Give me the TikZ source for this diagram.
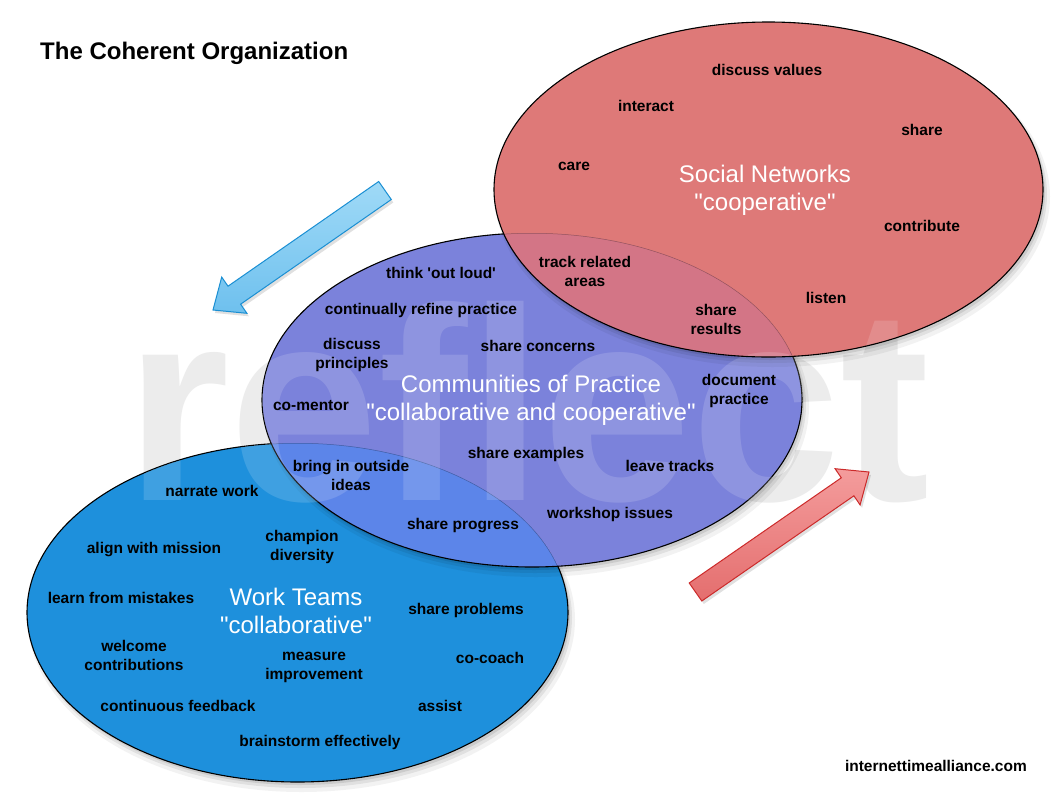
\documentclass[tikz,border=0pt]{standalone}
\usepackage{fontspec}
\usepackage{graphicx}
\newfontfamily\lblf{Liberation Sans}
\definecolor{redE}{RGB}{222,121,120}
\definecolor{purE}{RGB}{123,130,219}
\definecolor{bluE}{RGB}{30,144,220}
\definecolor{bpE}{RGB}{92,133,233}
\definecolor{rpE}{RGB}{211,117,134}
\definecolor{wmGray}{RGB}{236,236,236}
\definecolor{arBlueT}{RGB}{160,218,247}
\definecolor{arBlueB}{RGB}{110,192,238}
\definecolor{arBlueD}{RGB}{26,143,211}
\definecolor{arRedT}{RGB}{244,156,156}
\definecolor{arRedB}{RGB}{228,110,110}
\definecolor{arRedD}{RGB}{204,42,42}
\newcommand\redpath{(768.5,189.5) ellipse [x radius=274.5pt, y radius=167.5pt]}
\newcommand\purpath{(532,400) ellipse [x radius=270pt, y radius=167pt]}
\newcommand\blupath{(297.5,612.5) ellipse [x radius=270.5pt, y radius=169.5pt]}
\newcommand\softshadow[4]{%
  \fill[black,opacity=0.05] (#1+4,#2+7) ellipse [x radius=#3pt+3pt, y radius=#4pt+3pt];
  \fill[black,opacity=0.07] (#1+3,#2+5) ellipse [x radius=#3pt+1pt, y radius=#4pt+1pt];
  \fill[black,opacity=0.09] (#1+2,#2+3) ellipse [x radius=#3pt, y radius=#4pt];}
\begin{document}
\begin{tikzpicture}[x=1pt,y=-1pt,
  lbl/.style={font=\lblf\fontsize{15.5}{19}\selectfont\bfseries, align=center, inner sep=0pt, text=black},
  big/.style={font=\lblf\fontsize{24}{28}\selectfont, align=center, inner sep=0pt, text=white},
  wm/.style={font=\lblf\fontsize{275}{275}\selectfont\bfseries, inner sep=0pt, anchor=base},
  arrowshape/.style={line width=1pt, line join=miter}
  ]
\path[use as bounding box, fill=white] (0,0) rectangle (1061,809);
% watermark (grey, behind everything)
\node[wm, text=wmGray] (wmback) at (528,500) {\scalebox{0.975}[1]{reflect}};
% work teams
\softshadow{297.5}{612.5}{270.5}{169.5}
\fill[bluE] \blupath;
\draw[black, line width=1.1pt] \blupath;
% communities of practice
\softshadow{532}{400}{270}{167}
\fill[purE] \purpath;
\begin{scope}\clip \purpath; \clip \blupath;
  \fill[bpE] \blupath;
  \draw[black, opacity=0.3, line width=1pt] \blupath;
\end{scope}
\draw[black, line width=1.1pt] \purpath;
% social networks
\softshadow{768.5}{189.5}{274.5}{167.5}
\fill[redE] \redpath;
\begin{scope}\clip \redpath; \clip \purpath;
  \fill[rpE] \purpath;
  \draw[black, opacity=0.3, line width=1pt] \purpath;
\end{scope}
% watermark seen through the ellipses (lighter)
\begin{scope}
  \clip \blupath \purpath \redpath;
  \node[wm, text=white, text opacity=0.15] (wmfront) at (528,500) {\scalebox{0.975}[1]{reflect}};
\end{scope}
\draw[black, line width=1.1pt] \redpath;
% arrows
\coordinate (ba1) at (391.3,199.5);
\coordinate (ba2) at (378.7,181.5);
\coordinate (ba3) at (228.0,286.2);
\coordinate (ba4) at (221.7,277.1);
\coordinate (ba5) at (213,310);
\coordinate (ba6) at (246.9,313.3);
\coordinate (ba7) at (240.6,304.2);
\fill[black,opacity=0.12] ([shift={(2,3)}]ba1) -- ([shift={(2,3)}]ba2) -- ([shift={(2,3)}]ba3) -- ([shift={(2,3)}]ba4) -- ([shift={(2,3)}]ba5) -- ([shift={(2,3)}]ba6) -- ([shift={(2,3)}]ba7) -- cycle;
\draw[arrowshape, top color=arBlueT, bottom color=arBlueB, draw=arBlueD] (ba1) -- (ba2) -- (ba3) -- (ba4) -- (ba5) -- (ba6) -- (ba7) -- cycle;
\coordinate (ra1) at (689.2,583.0);
\coordinate (ra2) at (701.8,601.0);
\coordinate (ra3) at (853.9,495.8);
\coordinate (ra4) at (860.1,504.9);
\coordinate (ra5) at (869,472);
\coordinate (ra6) at (835.1,468.7);
\coordinate (ra7) at (841.3,477.8);
\fill[black,opacity=0.12] ([shift={(2,3)}]ra1) -- ([shift={(2,3)}]ra2) -- ([shift={(2,3)}]ra3) -- ([shift={(2,3)}]ra4) -- ([shift={(2,3)}]ra5) -- ([shift={(2,3)}]ra6) -- ([shift={(2,3)}]ra7) -- cycle;
\draw[arrowshape, top color=arRedT, bottom color=arRedB, draw=arRedD] (ra1) -- (ra2) -- (ra3) -- (ra4) -- (ra5) -- (ra6) -- (ra7) -- cycle;
% title and footer
\node[font=\lblf\fontsize{24}{28}\selectfont\bfseries, anchor=west, inner sep=0pt] (title) at (40,53) {The Coherent Organization};
\node[lbl, anchor=east] (site) at (1027,766) {internettimealliance.com};
% social networks labels
\node[lbl] (dv) at (767,70) {discuss values};
\node[lbl] (ia) at (646,106) {interact};
\node[lbl] (sh) at (922,130) {share};
\node[lbl] (ca) at (574,166) {care};
\node[big] (sn) at (765,190.5) {Social Networks\\"cooperative"};
\node[lbl] (co) at (922,226) {contribute};
\node[lbl] (tr) at (585,271) {track related\\areas};
\node[lbl] (li) at (826,298) {listen};
\node[lbl] (sr) at (716,319) {share\\results};
% communities of practice labels
\node[lbl] (to) at (441,273) {think 'out loud'};
\node[lbl] (cr) at (421,310) {continually refine practice};
\node[lbl] (dp) at (352,355) {discuss\\principles};
\node[lbl] (sc) at (538,346) {share concerns};
\node[big] (cp) at (531,400) {Communities of Practice\\"collaborative and cooperative"};
\node[lbl] (dc) at (739,391) {document\\practice};
\node[lbl] (cm) at (311,406) {co-mentor};
\node[lbl] (bo) at (351,475) {bring in outside\\ideas};
\node[lbl] (se) at (526,454) {share examples};
\node[lbl] (lt) at (670,466) {leave tracks};
\node[lbl] (sp) at (463,526) {share progress};
\node[lbl] (wi) at (610,514) {workshop issues};
% work teams labels
\node[lbl] (nw) at (212,491) {narrate work};
\node[lbl] (am) at (154,550) {align with mission};
\node[lbl] (cd) at (302,547) {champion\\diversity};
\node[lbl] (lm) at (121,598) {learn from mistakes};
\node[big] (wt) at (296,610.5) {Work Teams\\"collaborative"};
\node[lbl] (spb) at (466,610) {share problems};
\node[lbl] (wc) at (134,655) {welcome\\contributions};
\node[lbl] (mi) at (314,667) {measure\\improvement};
\node[lbl] (cc) at (490,658) {co-coach};
\node[lbl] (cf) at (178,706) {continuous feedback};
\node[lbl] (as) at (440,706) {assist};
\node[lbl] (be) at (320,742) {brainstorm effectively};
\end{tikzpicture}
\end{document}
